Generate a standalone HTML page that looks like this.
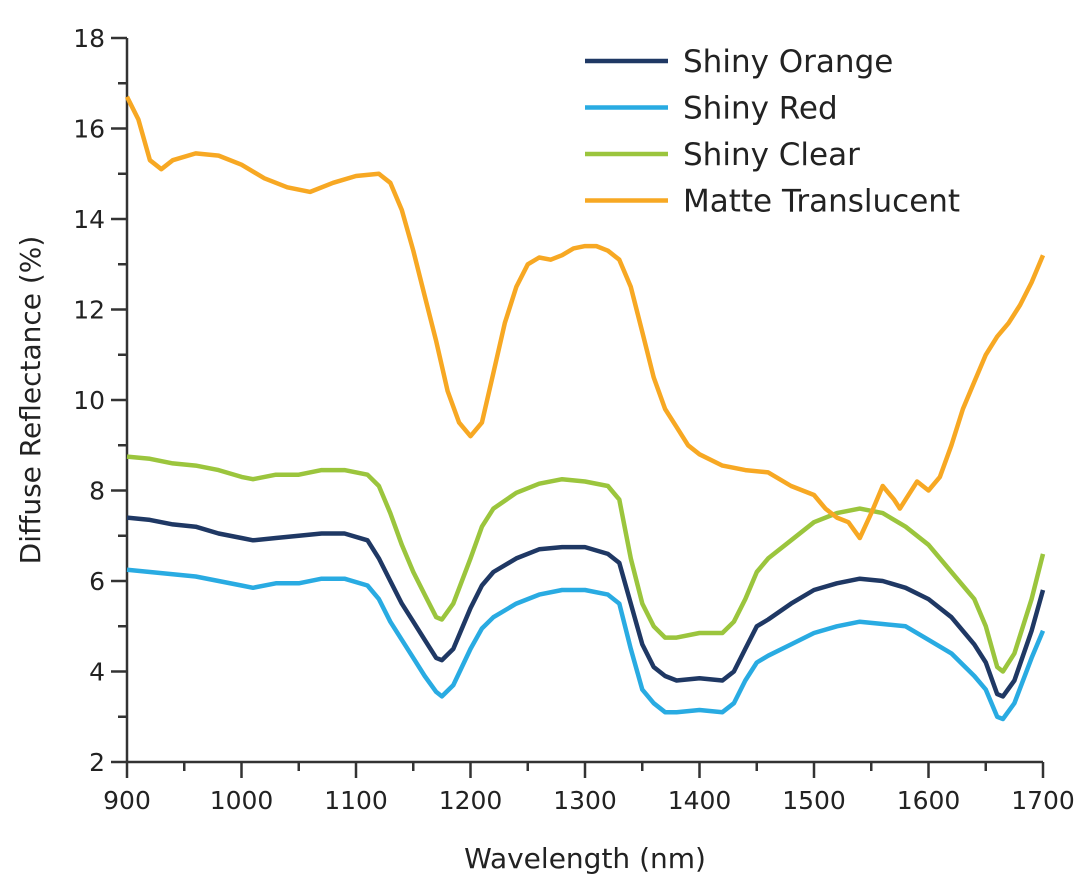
<!DOCTYPE html>
<html><head><meta charset="utf-8"><style>
body{margin:0;background:#fff;}
svg text{font-family:"DejaVu Sans","Liberation Sans",sans-serif;fill:#222;}
</style></head><body>
<svg id="chart" width="1080" height="889" viewBox="0 0 1080 889">
<g id="axes"></g>
<g id="series"></g>
<g id="legend"></g>
<text x="40" y="400" font-size="28" text-anchor="middle" transform="rotate(-90 40 400)">Diffuse Reflectance (%)</text>
<text x="585" y="868" font-size="28" text-anchor="middle">Wavelength (nm)</text>
</svg>
<script>
const xTicks=[900,1000,1100,1200,1300,1400,1500,1600,1700];
const yTicks=[2,4,6,8,10,12,14,16,18];
const seriesNames=["Shiny Orange","Shiny Red","Shiny Clear","Matte Translucent"];
const seriesColors=["#1f3864","#29abe2","#9bc53d","#f7a823"];
const orangeX=[900,910,920,930,940,960,980,1000,1020,1040,1060,1080,1100,1120,1130,1140,1150,1160,1170,1180,1190,1200,1210,1220,1230,1240,1250,1260,1270,1280,1290,1300,1310,1320,1330,1340,1350,1360,1370,1380,1390,1400,1420,1440,1460,1480,1500,1510,1520,1530,1540,1550,1560,1570,1575,1580,1590,1600,1610,1620,1630,1640,1650,1660,1670,1680,1690,1700];
const matteY=[16.7,16.2,15.3,15.1,15.3,15.45,15.4,15.2,14.9,14.7,14.6,14.8,14.95,15.0,14.8,14.2,13.3,12.3,11.3,10.2,9.5,9.2,9.5,10.6,11.7,12.5,13.0,13.15,13.1,13.2,13.35,13.4,13.4,13.3,13.1,12.5,11.5,10.5,9.8,9.4,9.0,8.8,8.55,8.45,8.4,8.1,7.9,7.6,7.4,7.3,6.95,7.5,8.1,7.8,7.6,7.8,8.2,8.0,8.3,9.0,9.8,10.4,11.0,11.4,11.7,12.1,12.6,13.2];
const shinyX=[900,920,940,960,980,1000,1010,1030,1050,1070,1090,1110,1120,1130,1140,1150,1160,1170,1175,1185,1200,1210,1220,1240,1260,1280,1300,1320,1330,1340,1350,1360,1370,1380,1400,1420,1430,1440,1450,1460,1480,1500,1520,1540,1560,1580,1600,1620,1640,1650,1660,1665,1675,1690,1700];
const clearY=[8.75,8.7,8.6,8.55,8.45,8.3,8.25,8.35,8.35,8.45,8.45,8.35,8.1,7.5,6.8,6.2,5.7,5.2,5.15,5.5,6.5,7.2,7.6,7.95,8.15,8.25,8.2,8.1,7.8,6.5,5.5,5.0,4.75,4.75,4.85,4.85,5.1,5.6,6.2,6.5,6.9,7.3,7.5,7.6,7.5,7.2,6.8,6.2,5.6,5.0,4.1,4.0,4.4,5.6,6.6];
const shinyOrangeY=[7.4,7.35,7.25,7.2,7.05,6.95,6.9,6.95,7.0,7.05,7.05,6.9,6.5,6.0,5.5,5.1,4.7,4.3,4.25,4.5,5.4,5.9,6.2,6.5,6.7,6.75,6.75,6.6,6.4,5.5,4.6,4.1,3.9,3.8,3.85,3.8,4.0,4.5,5.0,5.15,5.5,5.8,5.95,6.05,6.0,5.85,5.6,5.2,4.6,4.2,3.5,3.45,3.8,4.9,5.8];
const redY=[6.25,6.2,6.15,6.1,6.0,5.9,5.85,5.95,5.95,6.05,6.05,5.9,5.6,5.1,4.7,4.3,3.9,3.55,3.45,3.7,4.5,4.95,5.2,5.5,5.7,5.8,5.8,5.7,5.5,4.5,3.6,3.3,3.1,3.1,3.15,3.1,3.3,3.8,4.2,4.35,4.6,4.85,5.0,5.1,5.05,5.0,4.7,4.4,3.9,3.6,3.0,2.95,3.3,4.3,4.9];

const NS="http://www.w3.org/2000/svg";
const X0=127,X1=1043,Y0=762,Y1=38;
function xs(v){return X0+(v-900)/(1700-900)*(X1-X0);}
function ys(v){return Y0-(v-2)/(18-2)*(Y0-Y1);}
function mk(t,a,p){const e=document.createElementNS(NS,t);for(const k in a)e.setAttribute(k,a[k]);p.appendChild(e);return e;}
const ax=document.getElementById('axes');
let yl=mk('line',{x1:X0,y1:Y0,x2:X0,y2:Y1,stroke:'#333','stroke-width':2.5},ax);

let xl=mk('line',{x1:X0,y1:Y0,x2:X1,y2:Y0,stroke:'#333','stroke-width':2.5},ax);

xTicks.forEach((v,i)=>{
  const x=xs(v);
  mk('line',{x1:x,y1:Y0,x2:x,y2:Y0+16,stroke:'#333','stroke-width':2.5},ax);
  if(i<xTicks.length-1){const m=xs(v+50);mk('line',{x1:m,y1:Y0,x2:m,y2:Y0+9,stroke:'#333','stroke-width':2.5},ax);}
  const t=mk('text',{x:x,y:Y0+47,'font-size':25,'text-anchor':'middle'},ax);t.textContent=v;
  
  
});
yTicks.forEach((v,i)=>{
  const y=ys(v);
  mk('line',{x1:X0-16,y1:y,x2:X0,y2:y,stroke:'#333','stroke-width':2.5},ax);
  if(i<yTicks.length-1){const m=ys(v+1);mk('line',{x1:X0-9,y1:m,x2:X0,y2:m,stroke:'#333','stroke-width':2.5},ax);}
  const t=mk('text',{x:X0-22,y:y+9,'font-size':25,'text-anchor':'end'},ax);t.textContent=v;
  
  
});
const sg=document.getElementById('series');
const data=[[shinyX,shinyOrangeY],[shinyX,redY],[shinyX,clearY],[orangeX,matteY]];
const names=['series-shiny-orange','series-shiny-red','series-shiny-clear','series-matte-translucent'];
data.forEach((d,i)=>{
  const pts=d[0].map((x,j)=>xs(x).toFixed(1)+','+ys(d[1][j]).toFixed(1)).join(' ');
  const p=mk('polyline',{points:pts,fill:'none',stroke:seriesColors[i],'stroke-width':4.5,'stroke-linejoin':'round'},sg);
  
  
});
const lg=document.getElementById('legend');
seriesNames.forEach((n,i)=>{
  const y=61+i*46.5;
  const g=mk('g',{},lg);
  
  
  mk('line',{x1:585,y1:y,x2:668,y2:y,stroke:seriesColors[i],'stroke-width':4.5},g);
  const t=mk('text',{x:683,y:y+11,'font-size':31},g);t.textContent=n;
});
</script>
</body></html>
